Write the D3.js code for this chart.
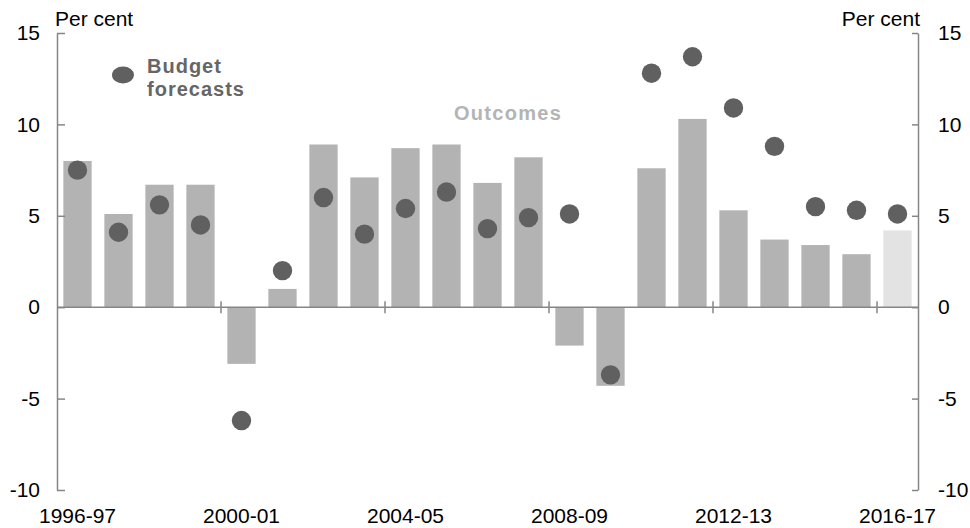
<!DOCTYPE html>
<html>
<head>
<meta charset="utf-8">
<script src="https://cdn.jsdelivr.net/npm/d3@7"></script>
<style>
  html, body { margin: 0; padding: 0; background: #fff; }
  svg { display: block; font-family: "Liberation Sans", Arial, sans-serif; }
</style>
</head>
<body>
<svg id="chart" width="970" height="528"></svg>
<script>
const categories = ["1996-97","1997-98","1998-99","1999-00","2000-01","2001-02","2002-03","2003-04","2004-05","2005-06","2006-07","2007-08","2008-09","2009-10","2010-11","2011-12","2012-13","2013-14","2014-15","2015-16","2016-17"];
const outcomes = [8.0, 5.1, 6.7, 6.7, -3.1, 1.0, 8.9, 7.1, 8.7, 8.9, 6.8, 8.2, -2.1, -4.3, 7.6, 10.3, 5.3, 3.7, 3.4, 2.9, 4.2];
const forecasts = [7.5, 4.1, 5.6, 4.5, -6.2, 2.0, 6.0, 4.0, 5.4, 6.3, 4.3, 4.9, 5.1, -3.7, 12.8, 13.7, 10.9, 8.8, 5.5, 5.3, 5.1];
const yTicks = [-10, -5, 0, 5, 10, 15];
const xLabelCats = ["1996-97","2000-01","2004-05","2008-09","2012-13","2016-17"];
const estimateCat = "2016-17";

const svg = d3.select("#chart");
const L = 57, R = 918, T = 33, B = 490;
const axisColor = "#868686";
const fontSize = "21px";

const x = d3.scaleBand().domain(categories).range([L, R]).paddingInner(0.31).paddingOuter(0.155);
const y = d3.scaleLinear().domain([-10, 15]).range([B, T]);

// bars
svg.append("g").selectAll("rect").data(categories).join("rect")
  .attr("x", d => x(d))
  .attr("width", x.bandwidth())
  .attr("y", (d, i) => y(Math.max(0, outcomes[i])))
  .attr("height", (d, i) => Math.abs(y(outcomes[i]) - y(0)))
  .attr("fill", d => d === estimateCat ? "#e3e3e3" : "#b3b3b3");

// zero line
svg.append("line").attr("x1", L).attr("x2", R).attr("y1", y(0)).attr("y2", y(0))
  .attr("stroke", axisColor).attr("stroke-width", 1.5);

// x tick marks at band boundaries every 4 categories
const gap = (x.step() - x.bandwidth()) / 2;
svg.append("g").selectAll("line").data(categories.filter((d, i) => i > 0 && i % 4 === 0)).join("line")
  .attr("x1", d => x(d) - gap).attr("x2", d => x(d) - gap)
  .attr("y1", y(0) - 6).attr("y2", y(0) + 6)
  .attr("stroke", axisColor).attr("stroke-width", 1.5);

// left axis
const fmt = d => String(d);
const leftAxis = d3.axisLeft(y).tickValues(yTicks).tickSizeInner(-8).tickSizeOuter(0).tickPadding(17).tickFormat(fmt);
const gl = svg.append("g").attr("transform", `translate(${L},0)`).call(leftAxis);
// right axis
const rightAxis = d3.axisRight(y).tickValues(yTicks).tickSizeInner(-6).tickSizeOuter(0).tickPadding(20).tickFormat(fmt);
const gr = svg.append("g").attr("transform", `translate(${R},0)`).call(rightAxis);
[gl, gr].forEach(g => {
  g.select(".domain").attr("stroke", axisColor).attr("stroke-width", 1.5);
  g.selectAll(".tick line").attr("stroke", axisColor).attr("stroke-width", 1.5);
  g.selectAll(".tick text").attr("fill", "#000").style("font-size", fontSize).style("font-family", '"Liberation Sans", Arial, sans-serif');
});

// x labels
svg.append("g").selectAll("text").data(xLabelCats).join("text")
  .attr("x", d => x(d) + x.bandwidth() / 2)
  .attr("y", 523)
  .attr("text-anchor", "middle")
  .style("font-size", fontSize)
  .attr("fill", "#000")
  .text(d => d);

// dots
svg.append("g").selectAll("circle").data(categories).join("circle")
  .attr("cx", d => x(d) + x.bandwidth() / 2)
  .attr("cy", (d, i) => y(forecasts[i]))
  .attr("r", 9.7)
  .attr("fill", "#606060");

// unit labels
svg.append("text").attr("x", 55).attr("y", 26).style("font-size", fontSize).text("Per cent");
svg.append("text").attr("x", 920).attr("y", 26).attr("text-anchor", "end").style("font-size", fontSize).text("Per cent");

// legend
svg.append("ellipse").attr("cx", 123).attr("cy", 75).attr("rx", 11).attr("ry", 8.5).attr("fill", "#606060");
const lg = svg.append("text").attr("x", 147).attr("y", 73).attr("fill", "#666666")
  .style("font-size", "20px").style("font-weight", "bold").style("letter-spacing", "1px");
lg.append("tspan").attr("x", 147).text("Budget");
lg.append("tspan").attr("x", 147).attr("dy", 23).text("forecasts");
svg.append("text").attr("x", 454).attr("y", 120).attr("fill", "#b4b4b4")
  .style("font-size", "20px").style("font-weight", "bold").style("letter-spacing", "1.3px").text("Outcomes");
</script>
</body>
</html>
